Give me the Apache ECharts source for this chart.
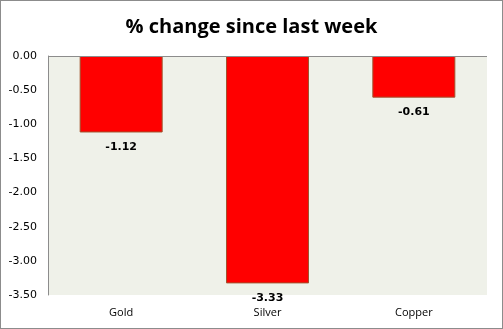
<!DOCTYPE html>
<html>
<head>
<meta charset="utf-8">
<script src="https://cdn.jsdelivr.net/npm/echarts@6/dist/echarts.min.js"></script>
<style>
html,body{margin:0;padding:0;background:#fff;}
#chart{width:503px;height:329px;box-sizing:border-box;border:1px solid #8c8c8c;}
</style>
</head>
<body>
<div id="chart"></div>
<script>
// Weekly metal price change (%)
const categories = ['Gold', 'Silver', 'Copper'];
const changes = [-1.12, -3.33, -0.61];
const yTicks = { min: -3.5, max: 0, interval: 0.5 };

const chart = echarts.init(document.getElementById('chart'), null, { renderer: 'canvas' });
chart.setOption({
  animation: false,
  title: {
    text: '% change since last week',
    left: 'center',
    top: 11,
    textStyle: { fontFamily: 'Open Sans', fontWeight: 'bold', fontSize: 20, color: '#000' }
  },
  grid: { left: 47, right: 15, top: 55, bottom: 33, show: true, backgroundColor: '#eff1e9', borderWidth: 0 },
  xAxis: {
    type: 'category',
    data: categories,
    position: 'bottom',
    axisLine: { show: false },
    axisTick: { show: false },
    axisLabel: { fontFamily: 'Open Sans', fontSize: 11, color: '#000', margin: 12 }
  },
  yAxis: {
    type: 'value',
    min: yTicks.min,
    max: yTicks.max,
    interval: yTicks.interval,
    axisLine: { show: true, lineStyle: { color: '#8c8c8c' } },
    axisTick: { show: false },
    splitLine: { show: false },
    axisLabel: { fontFamily: 'DejaVu Sans', fontSize: 11, color: '#000', margin: 11,
      formatter: v => v.toFixed(2) }
  },
  series: [{
    type: 'bar',
    data: changes,
    barWidth: 83,
    itemStyle: { color: '#ff0000', borderColor: '#a0522d', borderWidth: 1 },
    label: {
      show: true,
      position: 'bottom',
      distance: 9,
      fontFamily: 'DejaVu Sans',
      fontWeight: 'bold',
      fontSize: 11,
      color: '#000',
      formatter: p => p.value.toFixed(2)
    },
    markLine: {
      silent: true,
      symbol: 'none',
      label: { show: false },
      lineStyle: { color: '#8c8c8c', type: 'solid', width: 1 },
      data: [{ yAxis: 0 }]
    }
  }]
});
</script>
</body>
</html>
